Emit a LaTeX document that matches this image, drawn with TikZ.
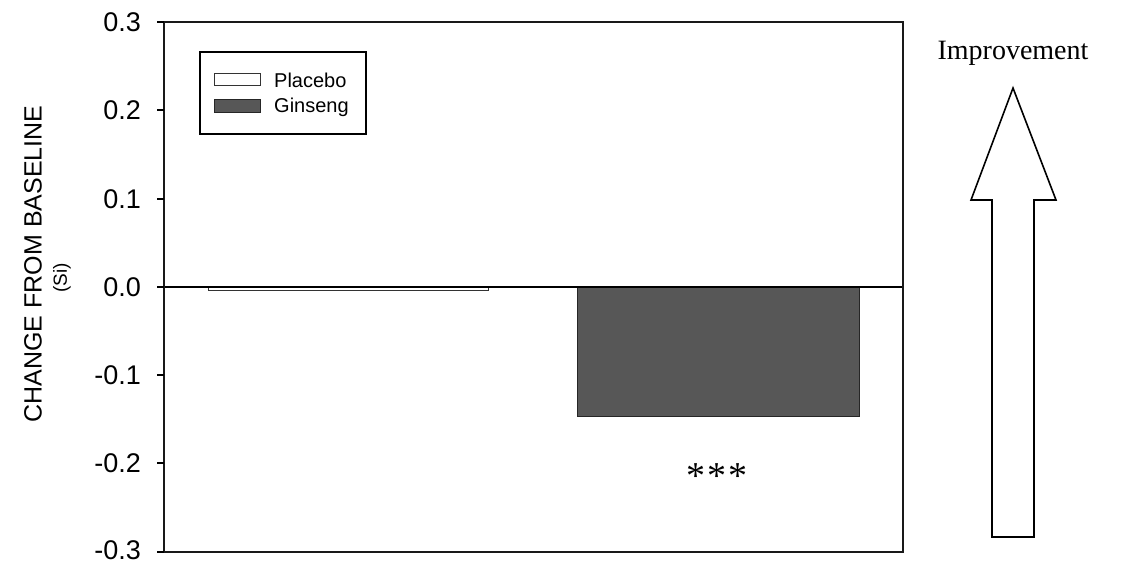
\documentclass[tikz,border=0pt]{standalone}
\usepackage{fontspec}
\setmainfont{Liberation Serif}
\newfontfamily\arial{Liberation Sans}
\begin{document}
\begin{tikzpicture}[x=1pt,y=-1pt,
  axisline/.style={line width=1.8pt,black!90},
  ticklabel/.style={font=\arial\fontsize{27}{27}\selectfont,anchor=east,inner sep=0pt},
  legtext/.style={font=\arial\fontsize{20}{20}\selectfont,anchor=west,inner sep=0pt},
  barG/.style={fill=black!66,draw=black!85,line width=1pt},
  barP/.style={fill=white,draw=black!80,line width=1pt}]
\useasboundingbox (0,0) rectangle (1124,564);
% bars
\fill[white] (164,22) rectangle (903,552);
\draw[barP] (208,287) rectangle (488,290);
\draw[barG] (577,287) rectangle (859,416);
% zero line
\draw[line width=1.3pt] (164,287) -- (903,287);
% frame
\draw[axisline] (164,22) rectangle (903,552);
% ticks and labels
\foreach \v/\y in {0.3/22,0.2/110,0.1/199,0.0/287,-0.1/375,-0.2/463}{
  \draw[line width=1.5pt] (157,\y) -- (164,\y);
  \node[ticklabel] at (141,\y) {\v};
}
\draw[line width=1.5pt] (157,552) -- (164,552);
\node[ticklabel] (lowest) at (141,550) {-0.3};
% axis title
\node[rotate=90,font=\arial\fontsize{25}{25}\selectfont,inner sep=0pt] (ylab) at (33,264) {CHANGE FROM BASELINE};
\node[rotate=90,font=\arial\fontsize{19}{19}\selectfont,inner sep=0pt] (yunit) at (62,278) {(Si)};
% legend
\draw[line width=1.1pt] (200,52) rectangle (366,134);
\draw[barP] (214,74) rectangle (260,86);
\node[legtext] (lp) at (274,80) {Placebo};
\draw[barG] (214,100) rectangle (260,113);
\node[legtext] (lg) at (274,107) {Ginseng};
% significance
\node[font=\fontsize{38}{38}\selectfont,inner sep=0pt] (sig) at (717,476) {*\hspace{2pt}*\hspace{2pt}*};
% improvement arrow
\node[font=\fontsize{28}{28}\selectfont,inner sep=0pt] (imp) at (1013,53) {Improvement};
\draw[line width=1.6pt,line join=miter] (1013,88) -- (1056,200) -- (1034,200) -- (1034,537) -- (992,537) -- (992,200) -- (971,200) -- cycle;
\end{tikzpicture}
\end{document}
